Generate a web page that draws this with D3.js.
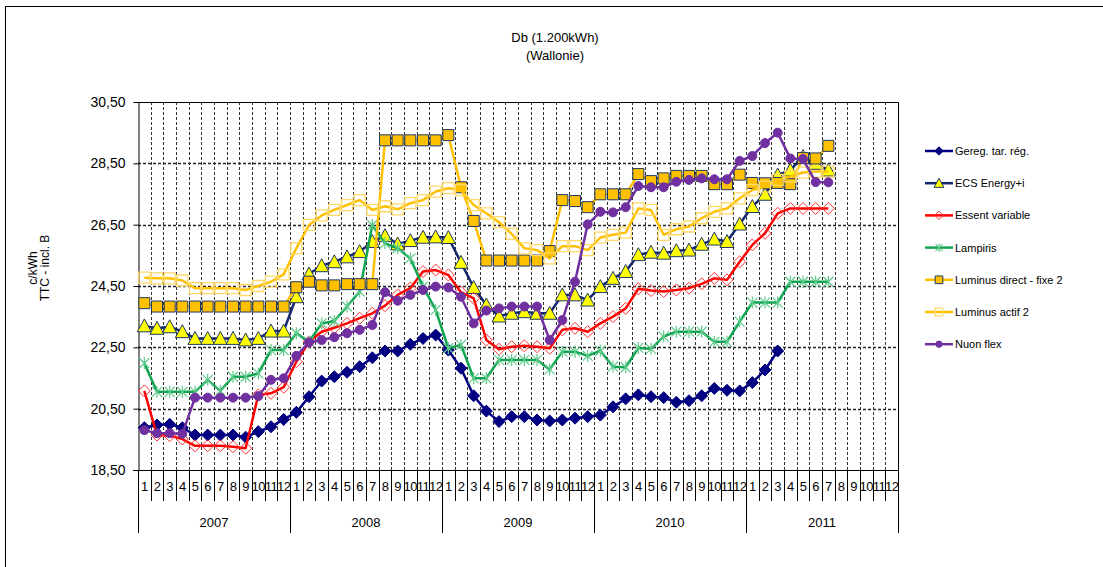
<!DOCTYPE html>
<html>
<head>
<meta charset="utf-8">
<script src="https://cdn.jsdelivr.net/npm/d3@7"></script>
<style>
    body { margin: 0; background: #fff; }
    text { font-family: "Liberation Sans", Arial, sans-serif; fill: #000; }
</style>
</head>
<body>
<div id="chart"></div>
<script>
// Data (c/kWh, monthly, Jan 2007 onwards)
const years = [2007, 2008, 2009, 2010, 2011];
const monthLabels = ['1', '2', '3', '4', '5', '6', '7', '8', '9', '10', '11', '12'];
const yTicks = [18.5, 20.5, 22.5, 24.5, 26.5, 28.5, 30.5];
const seriesNames = ['Gereg. tar. rég.', 'ECS Energy+i', 'Essent variable', 'Lampiris',
    'Luminus direct - fixe 2', 'Luminus actif 2', 'Nuon flex'];

const gereg = [
    19.88, 19.97, 19.99, 19.88, 19.64, 19.64, 19.64, 19.64, 19.57, 19.75, 19.91, 20.15,
    20.38, 20.89, 21.40, 21.54, 21.69, 21.87, 22.16, 22.38, 22.38, 22.60, 22.79, 22.90,
    22.41, 21.82, 20.92, 20.42, 20.08, 20.24, 20.24, 20.13, 20.10, 20.13, 20.19, 20.24,
    20.29, 20.56, 20.82, 20.95, 20.89, 20.86, 20.71, 20.76, 20.92, 21.16, 21.10, 21.08,
    21.35, 21.76, 22.38
];
const ecs = [
    23.20, 23.12, 23.17, 23.01, 22.79, 22.79, 22.79, 22.79, 22.74, 22.79, 23.03, 23.03,
    24.15, 24.89, 25.16, 25.29, 25.45, 25.62, 25.95, 26.14, 25.87, 25.98, 26.09, 26.10,
    26.08, 25.27, 24.45, 23.88, 23.52, 23.61, 23.66, 23.61, 23.61, 24.21, 24.21, 24.04,
    24.48, 24.75, 24.97, 25.52, 25.60, 25.57, 25.65, 25.67, 25.86, 26.03, 25.95, 26.52,
    27.09, 27.49, 28.12, 28.28, 28.72, 28.50, 28.28
];
const essent = [
    21.08, 19.64, 19.62, 19.51, 19.29, 19.29, 19.29, 19.26, 19.21, 20.95, 21.00, 21.20,
    22.03, 22.68, 23.01, 23.14, 23.28, 23.45, 23.61, 23.86, 24.21, 24.43, 24.97, 25.02,
    24.86, 24.30, 24.10, 22.74, 22.44, 22.52, 22.55, 22.52, 22.47, 23.07, 23.12, 23.01,
    23.28, 23.50, 23.77, 24.41, 24.35, 24.32, 24.37, 24.43, 24.57, 24.75, 24.70, 25.29,
    25.84, 26.22, 26.87, 27.03, 27.03, 27.03, 27.03
];
const lampiris = [
    21.98, 21.05, 21.05, 21.05, 21.05, 21.44, 21.08, 21.54, 21.54, 21.65, 22.41, 22.41,
    22.96, 22.68, 23.28, 23.36, 23.83, 24.32, 26.49, 25.89, 25.73, 25.40, 24.48, 23.72,
    22.47, 22.58, 21.49, 21.49, 22.09, 22.09, 22.09, 22.09, 21.78, 22.36, 22.36, 22.22,
    22.39, 21.87, 21.85, 22.48, 22.45, 22.85, 23.01, 23.01, 23.01, 22.68, 22.68, 23.34,
    23.96, 23.96, 23.96, 24.64, 24.64, 24.64, 24.64
];
const luminusDirect = [
    23.94, 23.83, 23.83, 23.83, 23.83, 23.83, 23.83, 23.83, 23.83, 23.83, 23.83, 23.83,
    24.46, 24.64, 24.52, 24.52, 24.56, 24.56, 24.56, 29.25, 29.25, 29.25, 29.25, 29.25,
    29.42, 27.72, 26.62, 25.33, 25.33, 25.33, 25.33, 25.33, 25.64, 27.30, 27.27, 27.07,
    27.49, 27.49, 27.49, 28.15, 27.92, 28.01, 28.09, 28.09, 28.09, 27.82, 27.82, 28.13,
    27.86, 27.85, 27.86, 27.82, 28.67, 28.66, 29.07
];
const luminusActif = [
    24.77, 24.75, 24.75, 24.68, 24.43, 24.43, 24.43, 24.43, 24.37, 24.50, 24.64, 24.88,
    25.73, 26.49, 26.80, 26.98, 27.14, 27.30, 26.98, 27.10, 27.00, 27.20, 27.30, 27.58,
    27.69, 27.63, 27.14, 26.87, 26.58, 26.20, 25.73, 25.67, 25.40, 25.80, 25.80, 25.67,
    26.08, 26.17, 26.24, 27.03, 26.98, 26.17, 26.35, 26.44, 26.71, 26.92, 27.03, 27.36,
    27.63, 27.74, 27.96, 28.07, 28.20, 28.23, 28.23
];
const nuon = [
    19.80, 19.70, 19.70, 19.68, 20.86, 20.86, 20.86, 20.86, 20.86, 20.91, 21.44, 21.49,
    22.22, 22.66, 22.74, 22.83, 22.96, 23.07, 23.23, 24.30, 24.02, 24.21, 24.37, 24.48,
    24.45, 24.15, 23.28, 23.70, 23.77, 23.83, 23.83, 23.83, 22.74, 23.39, 24.64, 26.51,
    26.92, 26.90, 27.07, 27.76, 27.72, 27.72, 27.90, 27.96, 28.01, 27.98, 27.98, 28.58,
    28.74, 29.16, 29.50, 28.66, 28.64, 27.89, 27.88
];

const W = 1103, H = 567;
const plot = { left: 138, right: 898, top: 102, bottom: 470 };

// marker shapes, centred on 0,0
const shapes = {
    diamond: r => `M0,${-r}L${r},0L0,${r}L${-r},0Z`,
    triangle: r => `M0,${-r}L${r},${r * 0.85}L${-r},${r * 0.85}Z`,
    square: r => `M${-r},${-r}H${r}V${r}H${-r}Z`,
    asterisk: r => `M${-r},${-r}L${r},${r}M${-r},${r}L${r},${-r}M0,${-r * 1.2}V${r * 1.2}`
};

const series = [
    { values: gereg, line: '#000080', shape: 'diamond', size: 6, fill: '#000080', stroke: '#000080', sw: 1 },
    { values: ecs, line: '#14286B', shape: 'triangle', size: 7, fill: '#FFFF00', stroke: '#1F3864', sw: 1 },
    { values: essent, line: '#FF0000', shape: 'diamond', size: 6, fill: 'none', stroke: '#FF3333', sw: 1 },
    { values: lampiris, line: '#11A552', shape: 'asterisk', size: 5, fill: 'none', stroke: '#5FCB8B', sw: 1.2 },
    { values: luminusDirect, line: '#FFC000', shape: 'square', size: 5.5, fill: '#FFC000', stroke: '#1F3864', sw: 1 },
    { values: luminusActif, line: '#FFC000', shape: 'square', size: 5.5, fill: 'none', stroke: '#FFD966', sw: 1.3 },
    { values: nuon, line: '#7030A0', shape: 'circle', size: 4.5, fill: '#7030A0', stroke: '#7030A0', sw: 1 }
];

const months = years.flatMap(y => monthLabels.map(m => ({ year: y, month: m })));

const svg = d3.select('#chart').append('svg')
    .attr('width', W)
    .attr('height', H);

// outer frame
svg.append('rect')
    .attr('x', 5.5).attr('y', 6.5)
    .attr('width', W).attr('height', H)
    .attr('fill', 'none')
    .attr('stroke', '#000')
    .attr('stroke-width', 1);

// scales
const x = d3.scaleBand()
    .domain(d3.range(months.length))
    .range([plot.left, plot.right])
    .padding(0);

const y = d3.scaleLinear()
    .domain([18.5, 30.5])
    .range([plot.bottom, plot.top]);

// title
svg.append('text')
    .attr('x', 555).attr('y', 42)
    .attr('text-anchor', 'middle')
    .style('font-size', '13px')
    .text('Db (1.200kWh)');
svg.append('text')
    .attr('x', 555).attr('y', 60)
    .attr('text-anchor', 'middle')
    .style('font-size', '13px')
    .text('(Wallonie)');

// grid lines
const grid = svg.append('g').attr('class', 'grid');
grid.selectAll('.hgrid')
    .data(yTicks.slice(1, -1))
    .enter()
    .append('line')
    .attr('x1', plot.left).attr('x2', plot.right)
    .attr('y1', d => Math.round(y(d)) + 0.5)
    .attr('y2', d => Math.round(y(d)) + 0.5)
    .attr('stroke', '#222')
    .attr('stroke-width', 1.3)
    .attr('stroke-dasharray', '3,2');

grid.selectAll('.vgrid')
    .data(d3.range(1, months.length))
    .enter()
    .append('line')
    .attr('x1', d => Math.round(x(d)) + 0.5)
    .attr('x2', d => Math.round(x(d)) + 0.5)
    .attr('y1', plot.top).attr('y2', plot.bottom)
    .attr('stroke', '#333')
    .attr('stroke-width', 1)
    .attr('stroke-dasharray', '3,2');

// plot frame (top and right)
svg.append('path')
    .attr('d', `M${plot.left},${plot.top + 0.5}H${plot.right + 0.5}V${plot.bottom}`)
    .attr('fill', 'none')
    .attr('stroke', '#000');

// y axis
const yAxis = svg.append('g')
    .attr('transform', `translate(${plot.left + 0.5},0)`)
    .call(d3.axisLeft(y)
        .tickValues(yTicks)
        .tickSize(5)
        .tickSizeOuter(0)
        .tickPadding(8)
        .tickFormat(d => d.toFixed(2).replace('.', ',')));
yAxis.selectAll('text').style('font-size', '14px').attr('fill', '#000');
yAxis.selectAll('line, path').attr('stroke', '#000');

// y axis title (two lines)
const yTitle = svg.append('text')
    .attr('transform', 'translate(0,268) rotate(-90)')
    .attr('text-anchor', 'middle')
    .style('font-size', '12px');
yTitle.append('tspan').attr('x', 0).attr('y', 37).text('c/kWh');
yTitle.append('tspan').attr('x', 0).attr('y', 49).text('TTC - incl. B');

// category axis: months and years
const cat = svg.append('g').attr('class', 'cat-axis');
cat.append('line')
    .attr('x1', plot.left - 5).attr('x2', plot.right + 0.5)
    .attr('y1', plot.bottom + 0.5).attr('y2', plot.bottom + 0.5)
    .attr('stroke', '#000');

cat.selectAll('.msep')
    .data(d3.range(0, months.length + 1))
    .enter()
    .append('line')
    .attr('x1', d => Math.round(d === months.length ? plot.right : x(d)) + 0.5)
    .attr('x2', d => Math.round(d === months.length ? plot.right : x(d)) + 0.5)
    .attr('y1', plot.bottom)
    .attr('y2', d => d % 12 === 0 ? plot.bottom + 63 : plot.bottom + 31)
    .attr('stroke', '#000');

cat.selectAll('.mlabel')
    .data(months)
    .enter()
    .append('text')
    .attr('x', (d, i) => x(i) + x.bandwidth() / 2)
    .attr('y', plot.bottom + 21)
    .attr('text-anchor', 'middle')
    .style('font-size', '13px')
    .style('letter-spacing', '-0.5px')
    .text(d => d.month);

cat.selectAll('.ylabel')
    .data(years)
    .enter()
    .append('text')
    .attr('x', (d, i) => x(i * 12) + x.bandwidth() * 6)
    .attr('y', plot.bottom + 57)
    .attr('text-anchor', 'middle')
    .style('font-size', '13px')
    .text(d => d);

// series
const line = d3.line()
    .x((d, i) => x(i) + x.bandwidth() / 2)
    .y(d => y(d));

function drawMarker(sel, s) {
    if (s.shape === 'circle') {
        return sel.append('circle')
            .attr('r', s.size)
            .attr('fill', s.fill)
            .attr('stroke', s.stroke)
            .attr('stroke-width', s.sw);
    }
    return sel.append('path')
        .attr('d', shapes[s.shape](s.size))
        .attr('fill', s.fill)
        .attr('stroke', s.stroke)
        .attr('stroke-width', s.sw);
}

const seriesG = svg.append('g').attr('class', 'series');
series.forEach(s => {
    const g = seriesG.append('g');
    g.append('path')
        .datum(s.values)
        .attr('d', line)
        .attr('fill', 'none')
        .attr('stroke', s.line)
        .attr('stroke-width', 2.5)
        .attr('stroke-linejoin', 'round');

    const pts = g.selectAll('.pt')
        .data(s.values)
        .enter()
        .append('g')
        .attr('transform', (d, i) => `translate(${x(i) + x.bandwidth() / 2},${y(d)})`);
    drawMarker(pts, s);
});

// legend
const legend = svg.append('g')
    .attr('class', 'legend')
    .attr('transform', 'translate(925,151)');

series.forEach((s, i) => {
    const row = legend.append('g')
        .attr('transform', `translate(0,${i * 32.2})`);
    row.append('line')
        .attr('x1', 0).attr('x2', 28)
        .attr('stroke', s.line)
        .attr('stroke-width', 2.5);
    const m = row.append('g').attr('transform', 'translate(14,0)');
    drawMarker(m, Object.assign({}, s, { size: s.size * 0.7 }));
    row.append('text')
        .attr('x', 30)
        .attr('y', 4)
        .style('font-size', '11px')
        .text(seriesNames[i]);
});
</script>
</body>
</html>
